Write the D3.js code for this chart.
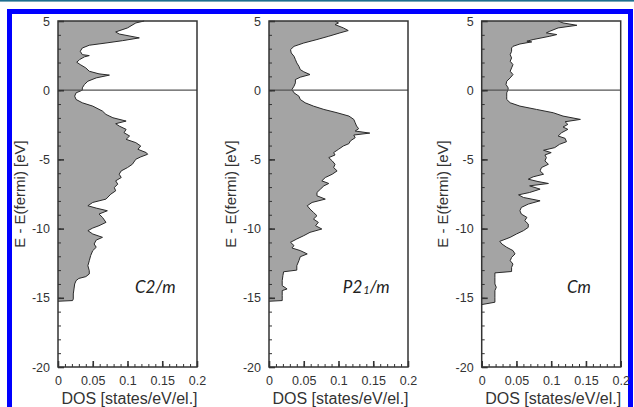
<!DOCTYPE html>
<html><head><meta charset="utf-8">
<script src="https://cdn.jsdelivr.net/npm/d3@7"></script>
<style>html,body{margin:0;padding:0;background:#fff;} svg{display:block;}</style>
</head><body>
<svg id="c" width="634" height="407"></svg>
<script>
// ---- data ----
const energyTicks = [-20, -15, -10, -5, 0, 5];
const energyMinor = [-20,-19,-18,-17,-16,-15,-14,-13,-12,-11,-10,-9,-8,-7,-6,-5,-4,-3,-2,-1,0,1,2,3,4,5];
const dosTicks = [0, 0.05, 0.1, 0.15, 0.2];
const dosMinor = [0,0.01,0.02,0.03,0.04,0.05,0.06,0.07,0.08,0.09,0.1,0.11,0.12,0.13,0.14,0.15,0.16,0.17,0.18,0.19,0.2];
const phaseNames = ["C2/m", "P2_1/m", "Cm"];
const xLabel = "DOS [states/eV/el.]";
const yLabel = "E - E(fermi) [eV]";

// [energy (eV), DOS]
const dosC2m = [[5.0,0.124],[4.86,0.112],[4.5,0.100],[4.21,0.083],[4.06,0.088],[3.78,0.117],[3.58,0.093],[3.41,0.069],[3.25,0.045],[3.05,0.035],[2.81,0.032],[2.57,0.035],[2.5,0.045],[2.41,0.038],[2.21,0.031],[2.02,0.027],[1.85,0.032],[1.61,0.040],[1.37,0.045],[1.18,0.059],[1.09,0.074],[0.89,0.055],[0.65,0.043],[0.41,0.038],[0.17,0.035],[0.0,0.035],[-0.19,0.026],[-0.43,0.024],[-0.67,0.026],[-0.91,0.035],[-1.15,0.050],[-1.51,0.064],[-1.75,0.069],[-1.99,0.079],[-2.23,0.098],[-2.42,0.083],[-2.59,0.088],[-2.83,0.098],[-3.07,0.095],[-3.31,0.103],[-3.55,0.098],[-3.79,0.112],[-4.03,0.119],[-4.27,0.115],[-4.51,0.127],[-4.63,0.129],[-4.82,0.119],[-4.99,0.112],[-5.35,0.107],[-5.59,0.100],[-5.83,0.091],[-6.07,0.088],[-6.31,0.091],[-6.55,0.083],[-6.79,0.086],[-7.03,0.081],[-7.27,0.083],[-7.51,0.076],[-7.87,0.069],[-8.11,0.050],[-8.35,0.043],[-8.52,0.055],[-8.71,0.071],[-8.95,0.059],[-9.19,0.064],[-9.55,0.069],[-9.79,0.059],[-9.96,0.050],[-10.15,0.043],[-10.39,0.050],[-10.63,0.064],[-10.83,0.055],[-11.11,0.052],[-11.35,0.055],[-11.59,0.050],[-11.95,0.047],[-12.32,0.045],[-12.68,0.043],[-13.04,0.045],[-13.28,0.045],[-13.47,0.040],[-13.6,0.030],[-13.76,0.026],[-14.0,0.024],[-14.36,0.023],[-14.72,0.022],[-15.08,0.022],[-15.2,0.021],[-15.25,0]];

const dosP21m = [[5.0,0.095],[4.86,0.100],[4.74,0.095],[4.5,0.107],[4.31,0.114],[4.14,0.102],[3.9,0.086],[3.66,0.069],[3.41,0.050],[3.17,0.036],[2.93,0.031],[2.69,0.032],[2.45,0.036],[2.21,0.038],[1.97,0.040],[1.73,0.043],[1.49,0.045],[1.33,0.050],[1.13,0.059],[0.94,0.045],[0.77,0.038],[0.53,0.038],[0.29,0.036],[0.05,0.033],[-0.19,0.036],[-0.43,0.043],[-0.67,0.045],[-0.91,0.052],[-1.15,0.064],[-1.39,0.079],[-1.63,0.098],[-1.87,0.115],[-2.11,0.122],[-2.35,0.124],[-2.59,0.126],[-2.78,0.129],[-2.95,0.124],[-3.1,0.145],[-3.24,0.122],[-3.43,0.124],[-3.67,0.117],[-3.86,0.115],[-4.03,0.107],[-4.27,0.100],[-4.51,0.093],[-4.68,0.095],[-4.87,0.086],[-5.11,0.091],[-5.35,0.095],[-5.59,0.093],[-5.83,0.098],[-6.07,0.091],[-6.31,0.081],[-6.55,0.076],[-6.74,0.086],[-6.91,0.079],[-7.15,0.074],[-7.39,0.069],[-7.63,0.069],[-7.87,0.081],[-8.11,0.062],[-8.35,0.055],[-8.59,0.059],[-8.83,0.064],[-9.07,0.069],[-9.31,0.064],[-9.55,0.071],[-9.79,0.067],[-10.03,0.076],[-10.27,0.059],[-10.51,0.050],[-10.75,0.040],[-10.99,0.031],[-11.23,0.036],[-11.4,0.033],[-11.59,0.045],[-11.83,0.055],[-12.03,0.045],[-12.32,0.043],[-12.68,0.040],[-13.0,0.040],[-13.12,0.021],[-13.4,0.020],[-13.76,0.019],[-14.12,0.019],[-14.36,0.026],[-14.48,0.019],[-14.84,0.019],[-15.08,0.019],[-15.2,0.019],[-15.25,0]];

const dosCm = [[5.0,0.110],[4.86,0.117],[4.69,0.137],[4.5,0.110],[4.26,0.098],[4.14,0.093],[4.02,0.108],[3.9,0.098],[3.66,0.074],[3.54,0.065],[3.49,0.072],[3.34,0.055],[3.17,0.045],[3.05,0.043],[2.81,0.043],[2.57,0.041],[2.33,0.043],[2.09,0.041],[1.85,0.045],[1.61,0.043],[1.37,0.041],[1.13,0.045],[0.89,0.041],[0.65,0.036],[0.41,0.035],[0.17,0.038],[0.05,0.038],[-0.19,0.036],[-0.43,0.036],[-0.67,0.036],[-0.91,0.041],[-1.15,0.055],[-1.39,0.079],[-1.63,0.103],[-1.87,0.117],[-2.11,0.142],[-2.28,0.120],[-2.47,0.124],[-2.66,0.117],[-2.83,0.124],[-3.07,0.115],[-3.31,0.110],[-3.48,0.120],[-3.72,0.122],[-3.91,0.112],[-4.15,0.105],[-4.34,0.089],[-4.51,0.100],[-4.68,0.091],[-4.87,0.093],[-5.11,0.091],[-5.35,0.096],[-5.59,0.086],[-5.83,0.084],[-6.07,0.089],[-6.26,0.074],[-6.43,0.067],[-6.6,0.081],[-6.74,0.096],[-6.91,0.069],[-7.15,0.084],[-7.39,0.069],[-7.56,0.053],[-7.75,0.060],[-7.99,0.084],[-8.23,0.067],[-8.47,0.057],[-8.71,0.055],[-8.95,0.057],[-9.19,0.065],[-9.43,0.062],[-9.67,0.067],[-9.91,0.067],[-10.15,0.060],[-10.39,0.050],[-10.63,0.041],[-10.92,0.026],[-11.11,0.029],[-11.35,0.036],[-11.59,0.045],[-11.83,0.048],[-12.08,0.043],[-12.32,0.041],[-12.56,0.045],[-12.8,0.043],[-13.1,0.043],[-13.2,0.019],[-13.52,0.019],[-14.0,0.019],[-14.24,0.021],[-14.48,0.019],[-14.96,0.019],[-15.32,0.019],[-15.49,0]];

const panelSeries = [dosC2m, dosP21m, dosCm];

// ---- layout ----
const svg = d3.select("#c");
const W = 634, H = 407;
const panelLeft = [58, 269, 481.7];
const panelW = 139;
const plotTop = 21, plotBottom = 367;
const FONT = "'Liberation Sans', Arial, Helvetica, sans-serif";
const TXT = "#333";

// frame decorations
svg.append("rect").attr("x",0).attr("y",0).attr("width",W).attr("height",H).attr("fill","#fff");
svg.append("rect").attr("x",0).attr("y",0).attr("width",W).attr("height",1.6).attr("fill","#1d6f8f");
svg.append("rect").attr("x",7).attr("y",9).attr("width",626).attr("height",5).attr("fill","#0000ff");
svg.append("rect").attr("x",7).attr("y",9).attr("width",5).attr("height",H-9).attr("fill","#0000ff");
svg.append("rect").attr("x",628).attr("y",9).attr("width",5).attr("height",H-9).attr("fill","#0000ff");

panelSeries.forEach((data, i) => {
  const x0 = panelLeft[i];
  const x = d3.scaleLinear().domain([0, 0.2]).range([x0, x0 + panelW]);
  const y = d3.scaleLinear().domain([-20, 5]).range([plotBottom, plotTop]);
  const g = svg.append("g");

  const area = d3.area().y(d => y(d[0])).x0(x(0)).x1(d => x(d[1]));
  const line = d3.line().y(d => y(d[0])).x(d => x(d[1]));
  g.append("path").datum(data).attr("d", area).attr("fill", "#a4a4a4");
  g.append("path").datum(data).attr("d", line).attr("fill", "none")
    .attr("stroke", "#2a2a2a").attr("stroke-width", 1);

  // zero line
  g.append("line").attr("x1", x(0)).attr("x2", x(0.2)).attr("y1", y(0)).attr("y2", y(0))
    .attr("stroke", "#555").attr("stroke-width", 1.3);

  // minor ticks
  const yMinor = g.append("g").attr("transform", `translate(${x(0)},0)`)
    .call(d3.axisLeft(y).tickValues(energyMinor).tickSize(-3).tickFormat(""));
  const xMinor = g.append("g").attr("transform", `translate(0,${y(-20)})`)
    .call(d3.axisBottom(x).tickValues(dosMinor).tickSize(-3).tickFormat(""));
  [yMinor, xMinor].forEach(a => { a.select(".domain").remove(); a.selectAll("line").attr("stroke", "#333"); });

  // major ticks + labels
  const yAx = g.append("g").attr("transform", `translate(${x(0)},0)`)
    .call(d3.axisLeft(y).tickValues(energyTicks).tickSize(-6).tickPadding(8).tickFormat(d => String(d)));
  const xAx = g.append("g").attr("transform", `translate(0,${y(-20)})`)
    .call(d3.axisBottom(x).tickValues(dosTicks).tickSize(-6).tickPadding(9).tickFormat(d3.format("~g")));
  [yAx, xAx].forEach(a => {
    a.select(".domain").remove();
    a.selectAll("line").attr("stroke", "#333").attr("stroke-width", 1.6);
    a.selectAll("text").attr("fill", TXT).style("font-family", FONT).style("font-size", "12.5px");
  });

  // frame
  g.append("rect").attr("x", x(0)).attr("y", y(5)).attr("width", x(0.2) - x(0)).attr("height", y(-20) - y(5))
    .attr("fill", "none").attr("stroke", "#333").attr("stroke-width", 1.5);

  // axis titles
  g.append("text").attr("x", (x(0) + x(0.2)) / 2 + 2).attr("y", 404)
    .attr("text-anchor", "middle").attr("fill", TXT)
    .style("font-family", FONT).style("font-size", "16px").text(xLabel);
  g.append("text").attr("transform", `translate(${x0 - 33.5},${(y(5) + y(-20)) / 2}) rotate(-90)`)
    .attr("text-anchor", "middle").attr("fill", TXT)
    .style("font-family", FONT).style("font-size", "15px").text(yLabel);

  // phase label
  const name = phaseNames[i];
  const t = g.append("text").attr("x", x(0.14)).attr("y", 293)
    .attr("text-anchor", "middle").attr("fill", "#222")
    .style("font-family", "Lato, 'Open Sans', sans-serif").style("font-style", "italic").style("font-size", "17px");
  if (name.includes("_")) {
    const [a, rest] = name.split("_");
    t.append("tspan").text(a);
    t.append("tspan").attr("dx", 1).style("font-size", "11px").attr("dy", 1).text(rest[0]);
    t.append("tspan").attr("dy", -1).text(rest.slice(1));
  } else {
    t.text(name);
  }
});
</script>
</body></html>
